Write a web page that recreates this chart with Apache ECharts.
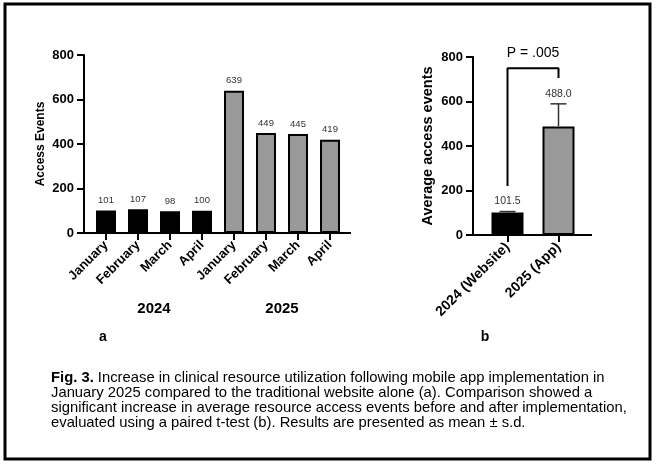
<!DOCTYPE html>
<html lang="en">
<head>
    <meta charset="UTF-8">
    <title>Fig. 3</title>
    <script src="https://cdn.jsdelivr.net/npm/echarts@6.0.0/dist/echarts.min.js"></script>
    <style>
        html, body { margin: 0; padding: 0; background: #fff; }
    </style>
</head>
<body>
    <div id="main" style="width: 657px;height:466px;"></div>
    <script type="text/javascript">
        // panel a
        const months = ['January', 'February', 'March', 'April', 'January', 'February', 'March', 'April'];
        const years = ['2024', '2025'];
        const events2024 = [101, 107, 98, 100];
        const events2025 = [639, 449, 445, 419];

        // panel b
        const groups = ['2024 (Website)', '2025 (App)'];
        const groupMeans = [101.5, 488.0];
        const groupSD = [3.9, 101.5];
        const bracket = [[0, 220], [0, 750], [1, 750], [1, 706]];
        const pText = 'P = .005';

        const font = 'Liberation Sans';
        const black = '#000';
        const grey = '#999';

        // grid geometry
        const gA = { left: 90, top: 55, width: 256, height: 178 };
        const gB = { left: 482, top: 57, width: 102, height: 178 };
        const offA = 6, offB = 9;
        const extA = 5, extB = 8;

        const monthData = events2024.map(v => ({ value: v, itemStyle: { color: black } }))
            .concat(events2025.map(v => ({ value: v, itemStyle: { color: grey } })));

        const yAxisBase = {
            type: 'value', min: 0, max: 800, interval: 200,
            axisLine: { show: true, lineStyle: { color: black, width: 2 } },
            axisTick: { show: true, length: 7, lineStyle: { color: black, width: 2 } },
            splitLine: { show: false },
            axisLabel: { color: black, fontFamily: font, fontWeight: 'bold', fontSize: 13, margin: 10 },
            nameLocation: 'middle',
            nameRotate: 90,
        };

        const xAxisBase = {
            type: 'category',
            axisLine: { show: true, lineStyle: { color: black, width: 2 } },
            axisTick: { show: true, alignWithLabel: true, length: 7, lineStyle: { color: black, width: 2 } },
            axisLabel: { color: black, fontFamily: font, fontWeight: 'bold', fontSize: 13, rotate: 45, margin: 10, interval: 0 },
        };

        let options = {
            animation: false,
            backgroundColor: '#fff',
            grid: [
                Object.assign({}, gA),
                Object.assign({}, gB),
            ],
            xAxis: [
                Object.assign({}, xAxisBase, { gridIndex: 0, data: months }),
                {
                    type: 'category', gridIndex: 0, position: 'bottom', offset: 60, data: years,
                    axisLine: { show: false }, axisTick: { show: false },
                    axisLabel: { color: black, fontFamily: font, fontWeight: 'bold', fontSize: 15, margin: 8 },
                },
                Object.assign({}, xAxisBase, {
                    gridIndex: 1, data: groups,
                    axisLabel: Object.assign({}, xAxisBase.axisLabel, { fontSize: 14 }),
                }),
            ],
            yAxis: [
                Object.assign({}, yAxisBase, {
                    gridIndex: 0, offset: offA, name: 'Access Events', nameGap: 37,
                    nameTextStyle: { color: black, fontFamily: font, fontWeight: 'bold', fontSize: 12 },
                }),
                Object.assign({}, yAxisBase, {
                    gridIndex: 1, offset: offB, name: 'Average access events', nameGap: 38,
                    nameTextStyle: { color: black, fontFamily: font, fontWeight: 'bold', fontSize: 14.5 },
                }),
            ],
            series: [
                {
                    type: 'bar', xAxisIndex: 0, yAxisIndex: 0,
                    barWidth: 20,
                    data: monthData,
                    itemStyle: { borderColor: black, borderWidth: 2 },
                    label: { show: true, position: 'top', distance: 5, color: '#333', fontFamily: font, fontSize: 9.5 },
                },
                {
                    type: 'bar', xAxisIndex: 2, yAxisIndex: 1,
                    barWidth: 32,
                    data: groupMeans.map((v, i) => ({ value: v, itemStyle: { color: i === 0 ? black : grey } })),
                    itemStyle: { borderColor: black, borderWidth: 2 },
                },
                {
                    // error bars (mean + s.d.) with the mean printed above
                    type: 'custom', xAxisIndex: 2, yAxisIndex: 1, z: 5,
                    data: groupMeans.map((m, i) => [i, m, groupSD[i]]),
                    renderItem: function (params, api) {
                        const x = api.value(0), m = api.value(1), s = api.value(2);
                        const base = api.coord([x, m]);
                        const top = api.coord([x, m + s]);
                        return {
                            type: 'group',
                            children: [
                                { type: 'line', shape: { x1: base[0], y1: base[1], x2: top[0], y2: top[1] }, style: { stroke: '#333', lineWidth: 1.5 } },
                                { type: 'line', shape: { x1: top[0] - 8, y1: top[1], x2: top[0] + 8, y2: top[1] }, style: { stroke: '#333', lineWidth: 1.5 } },
                                { type: 'text', x: top[0], y: top[1] - 10, style: { text: m.toFixed(1), align: 'center', verticalAlign: 'middle', fontFamily: font, fontSize: 10.5, fill: '#333' } },
                            ]
                        };
                    }
                },
                {
                    type: 'line', xAxisIndex: 2, yAxisIndex: 1,
                    data: bracket,
                    symbol: 'none',
                    lineStyle: { color: black, width: 2 },
                    z: 6,
                },
            ],
            graphic: [
                // frame
                { type: 'rect', shape: { x: 5, y: 4, width: 645, height: 455 }, style: { fill: 'none', stroke: black, lineWidth: 3 } },
                // x axis line stubs past the bars
                { type: 'line', shape: { x1: gA.left - offA - 1, y1: gA.top + gA.height, x2: gA.left, y2: gA.top + gA.height }, style: { stroke: black, lineWidth: 2 } },
                { type: 'line', shape: { x1: gA.left + gA.width, y1: gA.top + gA.height, x2: gA.left + gA.width + extA, y2: gA.top + gA.height }, style: { stroke: black, lineWidth: 2 } },
                { type: 'line', shape: { x1: gB.left - offB - 1, y1: gB.top + gB.height, x2: gB.left, y2: gB.top + gB.height }, style: { stroke: black, lineWidth: 2 } },
                { type: 'line', shape: { x1: gB.left + gB.width, y1: gB.top + gB.height, x2: gB.left + gB.width + extB, y2: gB.top + gB.height }, style: { stroke: black, lineWidth: 2 } },
                // significance text
                { type: 'text', x: 533, y: 53, style: { text: pText, align: 'center', verticalAlign: 'middle', fontFamily: font, fontSize: 14, fill: black } },
                // panel letters
                { type: 'text', x: 103, y: 337, style: { text: 'a', align: 'center', verticalAlign: 'middle', fontFamily: font, fontWeight: 'bold', fontSize: 14, fill: black } },
                { type: 'text', x: 485, y: 337, style: { text: 'b', align: 'center', verticalAlign: 'middle', fontFamily: font, fontWeight: 'bold', fontSize: 14, fill: black } },
                // caption
                {
                    type: 'text', x: 51, y: 370,
                    style: {
                        text: '{b|Fig. 3.} Increase in clinical resource utilization following mobile app implementation in\n' +
                            'January 2025 compared to the traditional website alone (a). Comparison showed a\n' +
                            'significant increase in average resource access events before and after implementation,\n' +
                            'evaluated using a paired t-test (b). Results are presented as mean \u00b1 s.d.',
                        fontFamily: font, fontSize: 14.8, lineHeight: 15, fill: black,
                        rich: { b: { fontFamily: font, fontSize: 14.8, fontWeight: 'bold', lineHeight: 15, fill: black } }
                    }
                },
            ],
        };

        let myChart = echarts.init(document.getElementById('main'));
        myChart.setOption(options);
    </script>
</body>
</html>
